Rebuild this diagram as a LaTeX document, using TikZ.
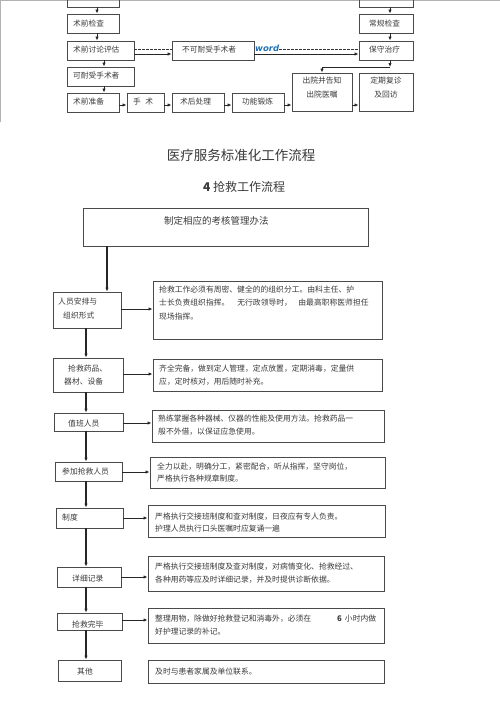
\documentclass[tikz,border=0pt]{standalone}
\usepackage{fontspec}
\setmainfont{Noto Sans CJK SC}
\newfontfamily\wordfont{DejaVu Sans}
\usetikzlibrary{arrows.meta,fit,calc}
\definecolor{edge}{HTML}{4A4A4A}
\definecolor{ink}{HTML}{3A3A3A}
\definecolor{wordblue}{HTML}{1E6FB8}
\newcommand\bx[5]{\node[box,fit={(#2,#3) (#4,#5)}] (#1) {};}
\begin{document}
\begin{tikzpicture}[x=1pt,y=-1pt,
  box/.style={draw=edge,line width=0.9pt,inner sep=0pt},
  txt/.style={inner sep=0pt,anchor=west,text=ink,align=left,font=\fontsize{7.8}{13}\selectfont},
  ctxt/.style={inner sep=0pt,text=ink,align=center,font=\fontsize{7.8}{14}\selectfont},
  arr/.style={-{Latex[length=4pt,width=3.4pt]},draw=black!85,line width=0.8pt},
  chain/.style={-{Latex[length=4pt,width=3.4pt]},draw=black!85,line width=1.1pt},
  dsh/.style={draw=black!80,line width=1pt,dash pattern=on 2.5pt off 1.5pt},
]
\useasboundingbox (0,0) rectangle (500,707);
\fill[white] (0,0) rectangle (500,707);
% page frame
\draw[black!30,line width=1.5pt] (0,0.6) -- (500,0.6);
\draw[black!30,line width=1.2pt] (0.6,0) -- (0.6,122);

% ---------- top section ----------
\bx{tl0}{67}{-5}{119}{7}
\bx{tr0}{359}{-5}{413}{7}
\bx{sqjc}{67}{14}{119}{33}
\bx{cgjc}{359}{14}{413}{33}
\bx{sqtl}{67}{41}{134}{60}
\bx{bkn}{172}{41}{254}{60}
\bx{bszl}{359}{41}{413}{60}
\bx{kny}{67}{67}{134}{86}
\bx{sqzb}{67}{93}{119}{112}
\bx{ss}{127}{93}{164}{112}
\bx{shcl}{172}{93}{224}{112}
\bx{gndl}{232}{93}{284}{112}
\bx{cy}{292}{73}{352}{111}
\bx{dqfz}{359}{73}{413}{111}

\node[txt,font=\fontsize{7.7}{13}\selectfont] (t_sqjc) at (73,23.5) {术前检查};
\node[txt,font=\fontsize{7.7}{13}\selectfont] (t_cgjc) at (369,23.5) {常规检查};
\node[txt,font=\fontsize{7.7}{13}\selectfont] (t_sqtl) at (73,50) {术前讨论评估};
\node[txt,font=\fontsize{7.7}{13}\selectfont] (t_bkn) at (182,50) {不可耐受手术者};
\node[txt,font=\fontsize{7.7}{13}\selectfont] (t_bszl) at (369,50) {保守治疗};
\node[txt,font=\fontsize{7.7}{13}\selectfont] (t_kny) at (73,76) {可耐受手术者};
\node[txt,font=\fontsize{7.7}{13}\selectfont] (t_sqzb) at (73,101.5) {术前准备};
\node[txt,font=\fontsize{7.7}{13}\selectfont] (t_ss) at (133,101.5) {手\hspace{4.5pt}术};
\node[txt,font=\fontsize{7.7}{13}\selectfont] (t_shcl) at (180,101.5) {术后处理};
\node[txt,font=\fontsize{7.7}{13}\selectfont] (t_gndl) at (242,101.5) {功能锻炼};
\node[ctxt] (t_cy) at (322,88) {出院并告知\\出院医嘱};
\node[ctxt] (t_dqfz) at (386,88) {定期复诊\\及回访};

\coordinate (xa) at (97,0);
\coordinate (xb) at (104,0);
\coordinate (xc) at (390,0);
\draw[arr] (tl0.south -| xa) -- (sqjc.north -| xa);
\draw[arr] (sqjc.south -| xa) -- (sqtl.north -| xa);
\draw[arr] (tr0.south -| xc) -- (cgjc.north -| xc);
\draw[arr] (cgjc.south -| xc) -- (bszl.north -| xc);
\draw[arr] (sqtl.south -| xb) -- (kny.north -| xb);
\draw[arr] (kny.south -| xb) -- (sqzb.north -| xb);

\coordinate (dl) at (0,49);
\coordinate (sl) at (0,54);
\node[inner sep=0pt,anchor=west,text=wordblue,font=\wordfont\bfseries\itshape\fontsize{8.5}{10}\selectfont] (wm) at (255,48) {word};
\draw[dsh] (sqtl.east |- dl) -- (bkn.west |- dl);
\draw[dsh] (wm.east |- dl) -- (bszl.west |- dl);
\draw[arr] (sqtl.east |- sl) -- (bkn.west |- sl);
\draw[arr] (bkn.east |- sl) -- (bszl.west |- sl);

\coordinate (hb) at (0,105);
\draw[arr] (sqzb.east |- hb) -- (ss.west |- hb);
\draw[arr] (ss.east |- hb) -- (shcl.west |- hb);
\draw[arr] (shcl.east |- hb) -- (gndl.west |- hb);
\draw[arr] (gndl.east |- hb) -- (cy.west |- hb);
\draw[arr] (cy.east |- hb) -- (dqfz.west |- hb);

\coordinate (jn) at (390,67);
\draw[arr] (bszl.south -| jn) -- (jn);
\draw[arr] (jn) -| (cy.north);

% ---------- titles ----------
\node[inner sep=0pt,text=ink,font=\fontsize{13.5}{16}\selectfont] (title) at (241,155) {医疗服务标准化工作流程};
\node[inner sep=0pt,text=ink,font=\fontsize{12}{14}\selectfont] (subtitle) at (244,187) {\textbf{4} 抢救工作流程};

% ---------- rescue flow ----------
\bx{zd}{83}{208}{368}{246}
\node[txt,font=\fontsize{9.5}{12}\selectfont] (t_zd) at (164,221) {制定相应的考核管理办法};

\bx{ry}{53}{292}{121}{328}
\bx{yp}{53}{358}{123}{392}
\bx{zb}{54}{413}{123}{431}
\bx{cj}{55}{462}{122}{481}
\bx{zhidu}{56}{508}{123}{528}
\bx{xx}{57}{567}{121}{587}
\bx{wb}{57}{613}{122}{630}
\bx{qt}{58}{660}{121}{681}

\node[txt,font=\fontsize{7.8}{14}\selectfont] (t_ry) at (58,309) {人员安排与\\\hspace{5pt}组织形式};
\node[txt,font=\fontsize{7.8}{13}\selectfont] (t_yp) at (64,375.5) {\hspace{4pt}抢救药品、\\器材、设备};
\node[txt] (t_zb) at (68,423.5) {值班人员};
\node[txt] (t_cj) at (62,472) {参加抢救人员};
\node[txt] (t_zhidu) at (62,518) {制度};
\node[txt] (t_xx) at (72,578.5) {详细记录};
\node[txt] (t_wb) at (72,624) {抢救完毕};
\node[txt] (t_qt) at (77,671.5) {其他};

\bx{d1}{153}{281}{382}{339}
\bx{d2}{153}{359}{382}{391}
\bx{d3}{152}{410}{384}{442}
\bx{d4}{150}{457}{385}{488}
\bx{d5}{148}{505}{385}{537}
\bx{d6}{148}{556}{384}{591}
\bx{d7}{148}{608}{384}{643}
\bx{d8}{148}{660}{384}{683}

\node[txt,font=\fontsize{7.8}{13.5}\selectfont] (t_d1) at (159,302.5) {抢救工作必须有周密、健全的的组织分工。由科主任、护\\士长负责组织指挥。\hspace{8pt}无行政领导时，\hspace{6.4pt}由最高职称医师担任\\现场指挥。};
\node[txt] (t_d2) at (159,375.5) {齐全完备，做到定人管理，定点放置，定期消毒，定量供\\应，定时核对，用后随时补充。};
\node[txt] (t_d3) at (158,425.5) {熟练掌握各种器械、仪器的性能及使用方法。抢救药品一\\般不外借，以保证应急使用。};
\node[txt,font=\fontsize{7.8}{12}\selectfont] (t_d4) at (157,473) {全力以赴，明确分工，紧密配合，听从指挥，坚守岗位，\\严格执行各种规章制度。};
\node[txt,font=\fontsize{7.8}{12}\selectfont] (t_d5) at (155,523) {严格执行交接班制度和查对制度，日夜应有专人负责。\\护理人员执行口头医嘱时应复诵一遍};
\node[txt] (t_d6) at (155,573.5) {严格执行交接班制度及查对制度，对病情变化、抢救经过、\\各种用药等应及时详细记录，并及时提供诊断依据。};
\node[txt] (t_d7) at (155,625.5) {整理用物，除做好抢救登记和消毒外，必须在\hspace{26pt}\textbf{6}\hspace{3pt}小时内做\\好护理记录的补记。};
\node[txt] (t_d8) at (155,671.5) {及时与患者家属及单位联系。};

% connectors
\coordinate (xz) at (107,0);
\coordinate (xm) at (86,0);
\draw[chain] (zd.south -| xz) -- (ry.north -| xz);
\draw[chain] (ry.south -| xm) -- (yp.north -| xm);
\draw[chain] (yp.south -| xm) -- (zb.north -| xm);
\draw[chain] (zb.south -| xm) -- (cj.north -| xm);
\draw[chain] (cj.south -| xm) -- (zhidu.north -| xm);
\draw[chain] (zhidu.south -| xm) -- (xx.north -| xm);
\draw[chain] (xx.south -| xm) -- (wb.north -| xm);
\draw[chain] (wb.south -| xm) -- (qt.north -| xm);

\coordinate (h1) at (0,309);
\coordinate (h2) at (0,374);
\coordinate (h3) at (0,423);
\coordinate (h4) at (0,472);
\coordinate (h5) at (0,518);
\coordinate (h6) at (0,577);
\coordinate (h7) at (0,620);
\draw[arr] (ry.east |- h1) -- (d1.west |- h1);
\draw[arr] (yp.east |- h2) -- (d2.west |- h2);
\draw[arr] (zb.east |- h3) -- (d3.west |- h3);
\draw[arr] (cj.east |- h4) -- (d4.west |- h4);
\draw[arr] (zhidu.east |- h5) -- (d5.west |- h5);
\draw[arr] (xx.east |- h6) -- (d6.west |- h6);
\draw[arr] (wb.east |- h7) -- (d7.west |- h7);
\end{tikzpicture}
\end{document}
